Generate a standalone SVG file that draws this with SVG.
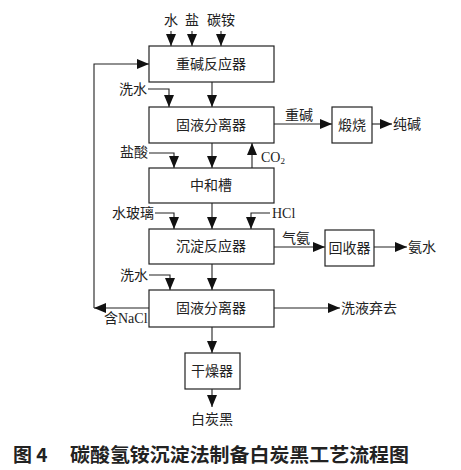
<svg xmlns="http://www.w3.org/2000/svg" width="461" height="470" viewBox="0 0 461 470">
<style>
.box{fill:#fff;stroke:#222;stroke-width:1.2}
.t{font-family:"Liberation Serif","Noto Sans CJK SC",serif;font-size:14px;fill:#222}
.c{text-anchor:middle}
.e{text-anchor:end}
.ln{fill:none;stroke:#222;stroke-width:1.1}
.cap{font-family:"Noto Sans CJK SC",sans-serif;font-size:19px;font-weight:bold;fill:#222}
</style>
<defs>
<marker id="ah" markerUnits="userSpaceOnUse" markerWidth="13" markerHeight="11" refX="12" refY="5" orient="auto">
<path d="M0,0 L12,5 L0,10 z" fill="#111"/>
</marker>
</defs>
<rect width="461" height="470" fill="#fff"/>
<g id="connectors">
<path class="ln" d="M171,31 L171,46" marker-end="url(#ah)"/>
<path class="ln" d="M192,31 L192,46" marker-end="url(#ah)"/>
<path class="ln" d="M221,31 L221,46" marker-end="url(#ah)"/>
<path class="ln" d="M148,89 L169,89 L169,107" marker-end="url(#ah)"/>
<path class="ln" d="M212,82 L212,107" marker-end="url(#ah)"/>
<path class="ln" d="M274,124 L332,124" marker-end="url(#ah)"/>
<path class="ln" d="M372,124 L392,124" marker-end="url(#ah)"/>
<path class="ln" d="M149,153 L174,153 L174,168" marker-end="url(#ah)"/>
<path class="ln" d="M212,143 L212,168" marker-end="url(#ah)"/>
<path class="ln" d="M252,168 L252,143" marker-end="url(#ah)"/>
<path class="ln" d="M155,213 L174,213 L174,229" marker-end="url(#ah)"/>
<path class="ln" d="M212,203 L212,229" marker-end="url(#ah)"/>
<path class="ln" d="M270,213 L251,213 L251,229" marker-end="url(#ah)"/>
<path class="ln" d="M274,247 L325,247" marker-end="url(#ah)"/>
<path class="ln" d="M374,247 L407,247" marker-end="url(#ah)"/>
<path class="ln" d="M149,275 L170,275 L170,290" marker-end="url(#ah)"/>
<path class="ln" d="M212,264 L212,290" marker-end="url(#ah)"/>
<path class="ln" d="M274,308 L340,308" marker-end="url(#ah)"/>
<path class="ln" d="M149,308 L94,308" marker-end="url(#ah)"/>
<path class="ln" d="M94,308 L94,64 L149,64" marker-end="url(#ah)"/>
<path class="ln" d="M212,327 L212,353" marker-end="url(#ah)"/>
<path class="ln" d="M212,389 L212,407" marker-end="url(#ah)"/>
</g>
<g id="n1"><rect class="box" x="149" y="46" width="125" height="36"/><text class="t c" x="211" y="69">重碱反应器</text></g>
<g id="n2"><rect class="box" x="149" y="107" width="125" height="36"/><text class="t c" x="211" y="130">固液分离器</text></g>
<g id="n3"><rect class="box" x="149" y="168" width="125" height="35"/><text class="t c" x="211" y="190">中和槽</text></g>
<g id="n4"><rect class="box" x="149" y="229" width="125" height="35"/><text class="t c" x="211" y="251">沉淀反应器</text></g>
<g id="n5"><rect class="box" x="149" y="290" width="125" height="37"/><text class="t c" x="211" y="313">固液分离器</text></g>
<g id="n6"><rect class="box" x="185" y="353" width="55" height="36"/><text class="t c" x="212" y="376">干燥器</text></g>
<g id="n7"><rect class="box" x="332" y="107" width="40" height="36"/><text class="t c" x="352" y="130">煅烧</text></g>
<g id="n8"><rect class="box" x="325" y="230" width="49" height="36"/><text class="t c" x="349.5" y="253">回收器</text></g>
<g id="labels">
<text class="t c" x="171" y="25">水</text>
<text class="t c" x="192" y="25">盐</text>
<text class="t c" x="221" y="25">碳铵</text>
<text class="t e" x="147" y="94">洗水</text>
<text class="t" x="285" y="120">重碱</text>
<text class="t" x="393" y="129">纯碱</text>
<text class="t e" x="148" y="157">盐酸</text>
<text class="t" x="261" y="162">CO<tspan font-size="9" dy="2">2</tspan></text>
<text class="t e" x="154" y="218">水玻璃</text>
<text class="t" x="272" y="218">HCl</text>
<text class="t" x="282" y="243">气氨</text>
<text class="t" x="408" y="252">氨水</text>
<text class="t e" x="148" y="280">洗水</text>
<text class="t" x="341" y="313">洗液弃去</text>
<text class="t" x="104" y="323">含NaCl</text>
<text class="t c" x="212" y="424">白炭黑</text>
</g>
<text class="cap" x="13" y="462">图 4</text>
<text class="cap" x="70" y="462" textLength="339" lengthAdjust="spacingAndGlyphs">碳酸氢铵沉淀法制备白炭黑工艺流程图</text>
</svg>
